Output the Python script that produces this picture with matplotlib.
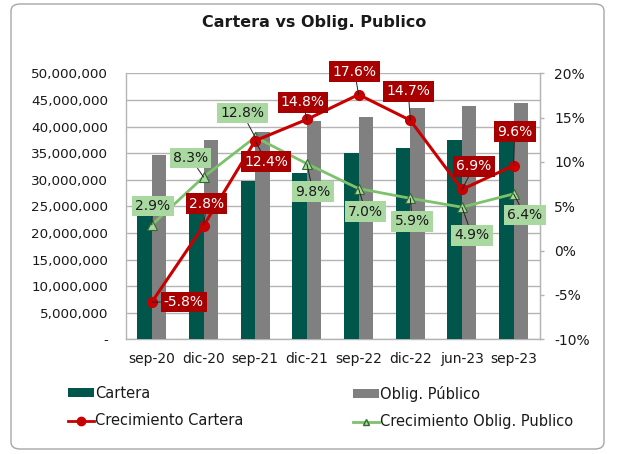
import matplotlib
matplotlib.use("Agg")
import matplotlib.pyplot as plt
import matplotlib.ticker as mticker
from matplotlib.patches import FancyBboxPatch, Patch
from matplotlib.lines import Line2D

# ---- data -----------------------------------------------------------------
categories = ["sep-20", "dic-20", "sep-21", "dic-21", "sep-22", "dic-22", "jun-23", "sep-23"]
cartera = [23.4e6, 25.0e6, 29.8e6, 31.3e6, 35.1e6, 35.9e6, 37.5e6, 39.0e6]
oblig = [34.6e6, 37.5e6, 38.9e6, 41.1e6, 41.7e6, 43.5e6, 43.9e6, 44.5e6]
crec_cartera = [-5.8, 2.8, 12.4, 14.8, 17.6, 14.7, 6.9, 9.6]
crec_oblig = [2.9, 8.3, 12.8, 9.8, 7.0, 5.9, 4.9, 6.4]

# label offsets (pixels from the point)
OFF_CART = [(32, 0), (3, 22), (11, -21), (-4, 17), (-4, 23), (-2, 29), (12, 23), (1, 34)]
OFF_OBL = [(1, 19), (-13, 19), (-13, 24), (6, -28), (7, -23), (2, -23), (10, -28), (11, -21)]

# ---- colours --------------------------------------------------------------
TEAL = "#00564B"
GRAY = "#808080"
RED = "#C80000"
RED_BOX = "#A80000"
GREEN = "#7CC26C"
GREEN_BOX = "#A9D8A0"
GREEN_EDGE = "#2F6B2A"
GRID = "#B4B4B4"
TXT = "#1a1a1a"

W, H = 618, 454
plt.rcParams.update({
    "font.family": "DejaVu Sans",
    "font.size": 9,
    "text.color": TXT,
    "xtick.color": TXT,
    "ytick.color": TXT,
})

fig = plt.figure(figsize=(W / 100, H / 100), dpi=100)
fig.patches.append(FancyBboxPatch((11 / W, 5 / H), 593 / W, 445 / H,
                                  boxstyle="round,pad=0,rounding_size=0.015",
                                  transform=fig.transFigure, fc="none",
                                  ec="#A6A6A6", lw=1.0, zorder=-1))

x0, x1, y0, y1 = 126, 539.5, 73.3, 339.3
ax = fig.add_axes([x0 / W, 1 - y1 / H, (x1 - x0) / W, (y1 - y0) / H])
ax.set_facecolor("none")
ax2 = ax.twinx()

x = list(range(len(categories)))
bw = 0.28
ax.bar([i - bw / 2 for i in x], cartera, width=bw, color=TEAL, zorder=3, label="Cartera")
ax.bar([i + bw / 2 for i in x], oblig, width=bw, color=GRAY, zorder=3, label="Oblig. Público")

ax.set_xlim(-0.5, len(categories) - 0.5)
ax.set_ylim(0, 50e6)
ax.set_yticks(range(0, 50_000_001, 5_000_000))
ax.yaxis.set_major_formatter(mticker.FuncFormatter(
    lambda v, _: "-" if v == 0 else f"{v:,.0f}"))
ax.set_xticks(x)
ax.set_xticklabels(categories)
ax.yaxis.grid(True, color=GRID, lw=1.0, zorder=0)
ax.set_axisbelow(True)
ax.tick_params(axis="y", length=0, pad=13, labelsize=9.7)
ax.tick_params(axis="x", length=0, pad=9, labelsize=10)
ax.spines["top"].set_visible(False)
for s in ("left", "bottom", "right"):
    ax.spines[s].set_color(GRID)
    ax.spines[s].set_linewidth(1.0)

ax2.plot(x, crec_oblig, color=GREEN, lw=2, marker="^", ms=6.5,
         mfc=GREEN_BOX, mec=GREEN_EDGE, mew=0.8, zorder=4)
ax2.plot(x, crec_cartera, color=RED, lw=2.2, marker="o", ms=7,
         mfc=RED, mec=RED, zorder=5)
ax2.set_ylim(-10, 20)
ax2.set_yticks(range(-10, 21, 5))
ax2.yaxis.set_major_formatter(mticker.FuncFormatter(lambda v, _: f"{v:.0f}%"))
ax2.tick_params(axis="y", length=3, width=1, color=GRID, pad=7.5, labelsize=10)
for s in ("top", "left", "bottom"):
    ax2.spines[s].set_visible(False)
ax2.spines["right"].set_color(GRID)

for i, v in enumerate(crec_oblig):
    ax2.annotate(f"{v:.1f}%", xy=(i, v), xytext=OFF_OBL[i], textcoords="offset pixels",
                 ha="center", va="center", fontsize=10, color=TXT, zorder=6,
                 bbox=dict(boxstyle="square,pad=0.24", fc=GREEN_BOX, ec="none"),
                 arrowprops=dict(arrowstyle="-", color="#222222", lw=0.7,
                                 shrinkA=0, shrinkB=0))
for i, v in enumerate(crec_cartera):
    ax2.annotate(f"{v:.1f}%", xy=(i, v), xytext=OFF_CART[i], textcoords="offset pixels",
                 ha="center", va="center", fontsize=10, color="white", zorder=7,
                 bbox=dict(boxstyle="square,pad=0.24", fc=RED_BOX, ec="none"),
                 arrowprops=dict(arrowstyle="-", color="#222222", lw=0.7,
                                 shrinkA=0, shrinkB=0))

fig.text(314 / W, 1 - 23 / H, "Cartera vs Oblig. Publico", ha="center", va="center",
         fontsize=11.5, fontweight="bold")

# legend: two columns placed separately
h_cart = Patch(fc=TEAL, ec="none")
h_obl = Patch(fc=GRAY, ec="none")
h_rc = Line2D([], [], color=RED, lw=2, marker="o", ms=6, mfc=RED, mec=RED)
h_go = Line2D([], [], color=GREEN, lw=2, marker="^", ms=5, mfc=GREEN_BOX, mec=GREEN_EDGE)
common = dict(frameon=False, fontsize=10.5, handlelength=1.75, handleheight=0.6,
              handletextpad=0.12, labelspacing=0.85, borderpad=0, borderaxespad=0,
              loc="upper left")
fig.legend([h_cart, h_rc], ["Cartera", "Crecimiento Cartera"],
           bbox_to_anchor=(68 / W, 1 - 386 / H), **common)
fig.legend([h_obl, h_go], ["Oblig. Público", "Crecimiento Oblig. Publico"],
           bbox_to_anchor=(353 / W, 1 - 386 / H), **common)

fig.savefig("out.png", dpi=100)
